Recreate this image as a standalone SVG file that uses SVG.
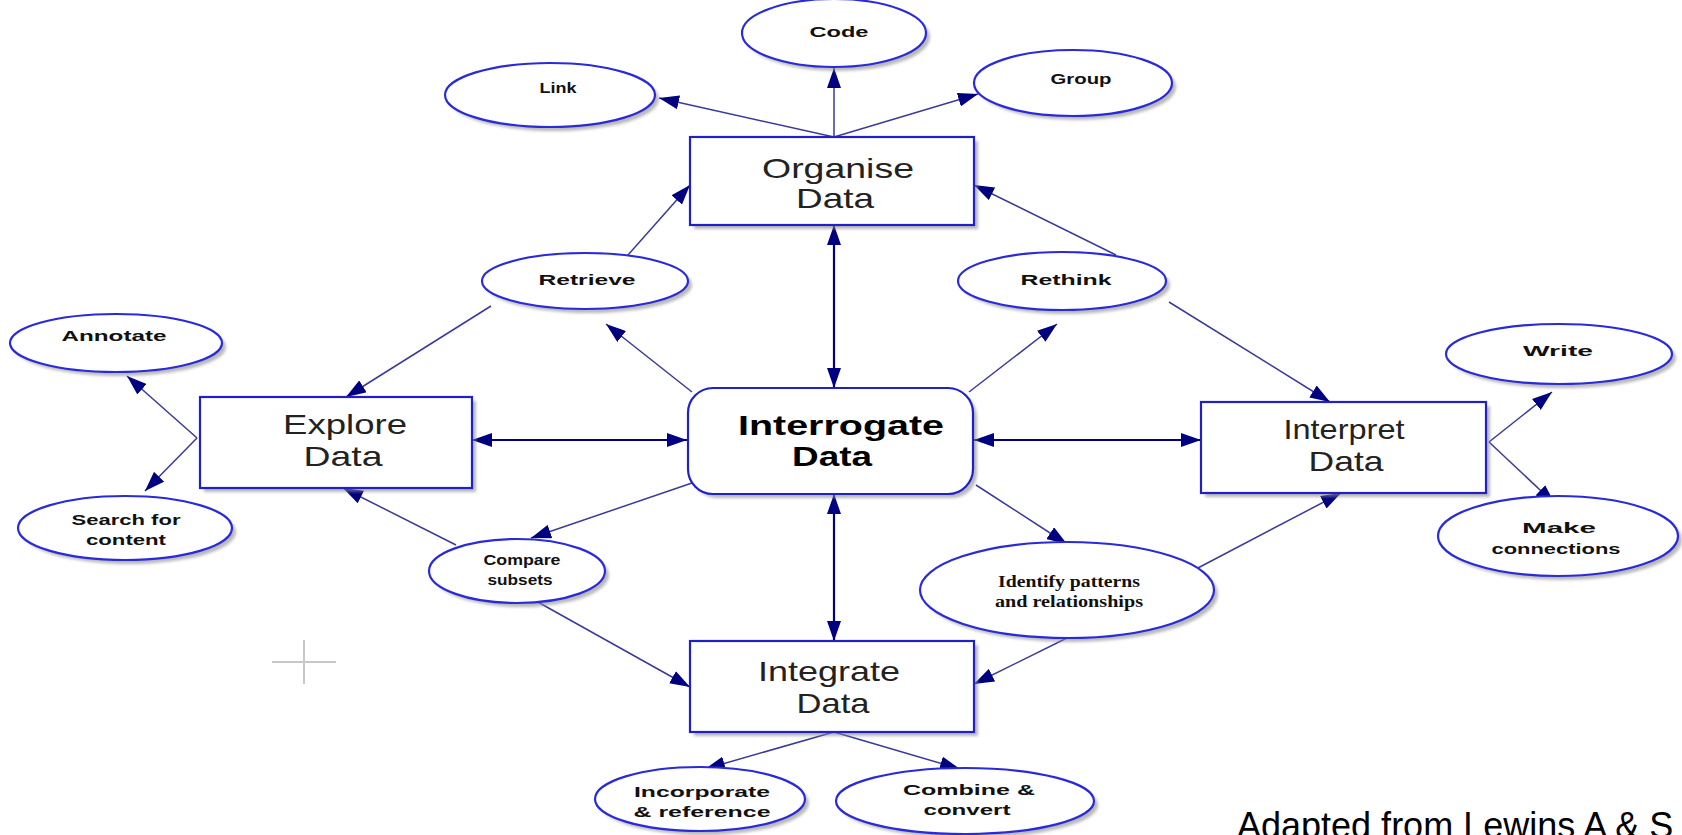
<svg xmlns="http://www.w3.org/2000/svg" width="1682" height="835" viewBox="0 0 1682 835">
<style>
.ell{fill:#fff;stroke:#2a2ad8;stroke-width:2.2}
.box{fill:#fff;stroke:#2020c8;stroke-width:2.2}
.sh{fill:#8a8a8a;opacity:0.6}
.el{font-family:"Liberation Sans",Arial,sans-serif;font-weight:bold;font-size:15px;fill:#111}
.ser{font-family:"Liberation Serif","Times New Roman",serif;font-weight:bold;font-size:16px;fill:#111}
.bx{font-family:"Liberation Sans",Arial,sans-serif;font-size:28px;fill:#222}
.bxb{font-family:"Liberation Sans",Arial,sans-serif;font-weight:bold;font-size:27px;fill:#000}
.ln{stroke:#3a3a98;stroke-width:1.5;fill:none}
.dbl{stroke:#000080;stroke-width:2.2;fill:none}
</style>
<defs>
<filter id="blur" x="-10%" y="-10%" width="120%" height="120%"><feGaussianBlur stdDeviation="1.5"/></filter>
<marker id="ah" viewBox="0 0 20 14" refX="20" refY="7" markerWidth="20" markerHeight="14" markerUnits="userSpaceOnUse" orient="auto-start-reverse">
<path d="M0,0 L20,7 L0,14 Z" fill="#000080"/>
</marker>
</defs>

<g id="connectors">
<line class="ln" x1="834" y1="137" x2="834" y2="68" marker-end="url(#ah)"/>
<line class="ln" x1="834" y1="137" x2="659" y2="98" marker-end="url(#ah)"/>
<line class="ln" x1="834" y1="137" x2="978" y2="94" marker-end="url(#ah)"/>
<line class="ln" x1="628" y1="255" x2="690" y2="185" marker-end="url(#ah)"/>
<line class="ln" x1="1116" y1="255" x2="974" y2="185" marker-end="url(#ah)"/>
<line class="ln" x1="491" y1="306" x2="346" y2="397" marker-end="url(#ah)"/>
<line class="ln" x1="1169" y1="302" x2="1330" y2="402" marker-end="url(#ah)"/>
<line class="ln" x1="692" y1="392" x2="606" y2="324" marker-end="url(#ah)"/>
<line class="ln" x1="969" y1="392" x2="1057" y2="324" marker-end="url(#ah)"/>
<line class="dbl" x1="834" y1="225" x2="834" y2="388" marker-start="url(#ah)" marker-end="url(#ah)"/>
<line class="dbl" x1="472" y1="440" x2="687" y2="440" marker-start="url(#ah)" marker-end="url(#ah)"/>
<line class="dbl" x1="974" y1="440" x2="1201" y2="440" marker-start="url(#ah)" marker-end="url(#ah)"/>
<line class="dbl" x1="834" y1="494" x2="834" y2="641" marker-start="url(#ah)" marker-end="url(#ah)"/>
<line class="ln" x1="197" y1="438" x2="127" y2="376" marker-end="url(#ah)"/>
<line class="ln" x1="197" y1="438" x2="145" y2="491" marker-end="url(#ah)"/>
<line class="ln" x1="456" y1="545" x2="343" y2="488" marker-end="url(#ah)"/>
<line class="ln" x1="692" y1="483" x2="531" y2="538" marker-end="url(#ah)"/>
<line class="ln" x1="536" y1="601" x2="690" y2="687" marker-end="url(#ah)"/>
<line class="ln" x1="976" y1="485" x2="1067" y2="544" marker-end="url(#ah)"/>
<line class="ln" x1="1196" y1="569" x2="1341" y2="493" marker-end="url(#ah)"/>
<line class="ln" x1="1067" y1="638" x2="974" y2="684" marker-end="url(#ah)"/>
<line class="ln" x1="1489" y1="442" x2="1552" y2="392" marker-end="url(#ah)"/>
<line class="ln" x1="1489" y1="442" x2="1555" y2="504" marker-end="url(#ah)"/>
<line class="ln" x1="834" y1="732" x2="705" y2="769" marker-end="url(#ah)"/>
<line class="ln" x1="834" y1="732" x2="960" y2="769" marker-end="url(#ah)"/>
</g>

<g id="code"><ellipse class="sh" cx="838" cy="37" rx="92" ry="34" filter="url(#blur)"/><ellipse class="ell" cx="834" cy="33" rx="92" ry="34"/><text class="el" x="809.5" y="37" textLength="59" lengthAdjust="spacingAndGlyphs">Code</text></g>
<g id="link"><ellipse class="sh" cx="554" cy="99" rx="105" ry="32" filter="url(#blur)"/><ellipse class="ell" cx="550" cy="95" rx="105" ry="32"/><text class="el" x="539.5" y="93" textLength="37" lengthAdjust="spacingAndGlyphs">Link</text></g>
<g id="group"><ellipse class="sh" cx="1077" cy="87" rx="99" ry="33" filter="url(#blur)"/><ellipse class="ell" cx="1073" cy="83" rx="99" ry="33"/><text class="el" x="1050.5" y="84" textLength="61" lengthAdjust="spacingAndGlyphs">Group</text></g>
<g id="organise"><rect class="sh" x="694" y="141" width="284" height="88" filter="url(#blur)"/><rect class="box" x="690" y="137" width="284" height="88"/><text class="bx" x="762" y="178" textLength="152" lengthAdjust="spacingAndGlyphs">Organise</text><text class="bx" x="796" y="208" textLength="78" lengthAdjust="spacingAndGlyphs">Data</text></g>
<g id="retrieve"><ellipse class="sh" cx="589" cy="285" rx="103" ry="28" filter="url(#blur)"/><ellipse class="ell" cx="585" cy="281" rx="103" ry="28"/><text class="el" x="538.5" y="285" textLength="97" lengthAdjust="spacingAndGlyphs">Retrieve</text></g>
<g id="rethink"><ellipse class="sh" cx="1066" cy="285" rx="104" ry="29" filter="url(#blur)"/><ellipse class="ell" cx="1062" cy="281" rx="104" ry="29"/><text class="el" x="1020.5" y="285" textLength="91" lengthAdjust="spacingAndGlyphs">Rethink</text></g>
<g id="annotate"><ellipse class="sh" cx="120" cy="347" rx="106" ry="29" filter="url(#blur)"/><ellipse class="ell" cx="116" cy="343" rx="106" ry="29"/><text class="el" x="61.5" y="341" textLength="105" lengthAdjust="spacingAndGlyphs">Annotate</text></g>
<g id="explore"><rect class="sh" x="204" y="401" width="272" height="91" filter="url(#blur)"/><rect class="box" x="200" y="397" width="272" height="91"/><text class="bx" x="283" y="434" textLength="124" lengthAdjust="spacingAndGlyphs">Explore</text><text class="bx" x="303.5" y="466" textLength="79" lengthAdjust="spacingAndGlyphs">Data</text></g>
<g id="interrogate"><rect class="sh" x="692" y="392" width="285" height="106" rx="25" filter="url(#blur)"/><rect class="box" x="688" y="388" width="285" height="106" rx="25"/><text class="bxb" x="738" y="435" textLength="206" lengthAdjust="spacingAndGlyphs">Interrogate</text><text class="bxb" x="792" y="466" textLength="80" lengthAdjust="spacingAndGlyphs">Data</text></g>
<g id="interpret"><rect class="sh" x="1205" y="406" width="285" height="91" filter="url(#blur)"/><rect class="box" x="1201" y="402" width="285" height="91"/><text class="bx" x="1283.5" y="439" textLength="121" lengthAdjust="spacingAndGlyphs">Interpret</text><text class="bx" x="1308.5" y="471" textLength="75" lengthAdjust="spacingAndGlyphs">Data</text></g>
<g id="write"><ellipse class="sh" cx="1563" cy="358" rx="113" ry="30" filter="url(#blur)"/><ellipse class="ell" cx="1559" cy="354" rx="113" ry="30"/><text class="el" x="1523" y="356" textLength="70" lengthAdjust="spacingAndGlyphs">Write</text></g>
<g id="search"><ellipse class="sh" cx="129" cy="532" rx="107" ry="32" filter="url(#blur)"/><ellipse class="ell" cx="125" cy="528" rx="107" ry="32"/><text class="el" x="71.5" y="525" textLength="109" lengthAdjust="spacingAndGlyphs">Search for</text><text class="el" x="86" y="545" textLength="80" lengthAdjust="spacingAndGlyphs">content</text></g>
<g id="compare"><ellipse class="sh" cx="521" cy="575" rx="88" ry="32" filter="url(#blur)"/><ellipse class="ell" cx="517" cy="571" rx="88" ry="32"/><text class="el" x="483.5" y="565" textLength="77" lengthAdjust="spacingAndGlyphs">Compare</text><text class="el" x="487.5" y="585" textLength="65" lengthAdjust="spacingAndGlyphs">subsets</text></g>
<g id="identify"><ellipse class="sh" cx="1071" cy="594" rx="147" ry="48" filter="url(#blur)"/><ellipse class="ell" cx="1067" cy="590" rx="147" ry="48"/><text class="ser" x="998" y="587" textLength="142" lengthAdjust="spacingAndGlyphs">Identify patterns</text><text class="ser" x="995" y="607" textLength="148" lengthAdjust="spacingAndGlyphs">and relationships</text></g>
<g id="make"><ellipse class="sh" cx="1562" cy="540" rx="120" ry="40" filter="url(#blur)"/><ellipse class="ell" cx="1558" cy="536" rx="120" ry="40"/><text class="el" x="1522" y="533" textLength="74" lengthAdjust="spacingAndGlyphs">Make</text><text class="el" x="1491.5" y="554" textLength="129" lengthAdjust="spacingAndGlyphs">connections</text></g>
<g id="integrate"><rect class="sh" x="694" y="645" width="284" height="91" filter="url(#blur)"/><rect class="box" x="690" y="641" width="284" height="91"/><text class="bx" x="758" y="681" textLength="142" lengthAdjust="spacingAndGlyphs">Integrate</text><text class="bx" x="796.5" y="713" textLength="73" lengthAdjust="spacingAndGlyphs">Data</text></g>
<g id="incorporate"><ellipse class="sh" cx="704" cy="803" rx="105" ry="32" filter="url(#blur)"/><ellipse class="ell" cx="700" cy="799" rx="105" ry="32"/><text class="el" x="634" y="797" textLength="136" lengthAdjust="spacingAndGlyphs">Incorporate</text><text class="el" x="633.5" y="817" textLength="137" lengthAdjust="spacingAndGlyphs">&amp; reference</text></g>
<g id="combine"><ellipse class="sh" cx="969" cy="805" rx="129" ry="33" filter="url(#blur)"/><ellipse class="ell" cx="965" cy="801" rx="129" ry="33"/><text class="el" x="903" y="795" textLength="132" lengthAdjust="spacingAndGlyphs">Combine &amp;</text><text class="el" x="923.5" y="815" textLength="87" lengthAdjust="spacingAndGlyphs">convert</text></g>

<g id="crosshair" stroke="#c8c8c8" stroke-width="2"><line x1="272" y1="662" x2="336" y2="662"/><line x1="304" y1="640" x2="304" y2="684"/></g>
<text x="1237" y="838" font-family="'Liberation Sans',Arial,sans-serif" font-size="36" fill="#000">Adapted from Lewins A &amp; S</text>
</svg>
